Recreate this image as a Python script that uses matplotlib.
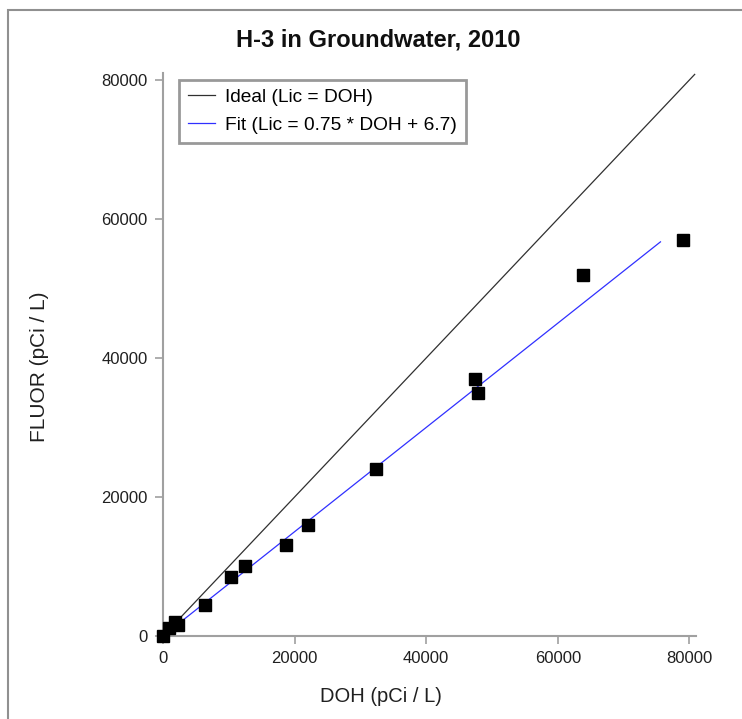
import matplotlib.pyplot as plt
from matplotlib.patches import Rectangle

plt.rcParams['font.family'] = ['Liberation Sans', 'DejaVu Sans']

# measured points (pCi / L)
doh = [0, 900, 1800, 2300, 6400, 10300, 12500, 18700, 22000, 32400, 47400, 47800, 63900, 79100]
fluor = [0, 1200, 2000, 1600, 4400, 8500, 10000, 13100, 16000, 24000, 37000, 35000, 52000, 57000]

ideal_x = [0, 80800]
fit_x = [0, 75600]
fit_slope = 0.75
fit_icpt = 6.7

ticks = [0, 20000, 40000, 60000, 80000]

W, H = 742, 719
fig = plt.figure(figsize=(W / 100, H / 100), dpi=100)
ax = fig.add_axes([163 / W, 83 / H, 533 / W, 563 / H])

ax.plot(ideal_x, ideal_x, color='#303030', lw=0.9, label='Ideal (Lic = DOH)')
ax.plot(fit_x, [fit_slope * v + fit_icpt for v in fit_x], color='#3030ff', lw=0.9,
        label='Fit (Lic = 0.75 * DOH + 6.7)')
ax.plot(doh, fluor, 's', color='black', ms=8.5, clip_on=False, zorder=5)

ax.set_xlim(0, 81000)
ax.set_ylim(0, 81000)
ax.set_xticks(ticks)
ax.set_yticks(ticks)
ax.set_xticklabels([str(t) for t in ticks])
ax.set_yticklabels([str(t) for t in ticks])

for s in ['top', 'right']:
    ax.spines[s].set_visible(False)
for s in ['left', 'bottom']:
    ax.spines[s].set_color('#a0a0a0')
    ax.spines[s].set_linewidth(1.5)
ax.tick_params(colors='#a0a0a0', labelcolor='#202020', labelsize=12, length=6, width=1.2, pad=5)

# axis titles and chart title placed in pixels like the original
fig.text(381 / W, 1 - 697 / H, 'DOH (pCi / L)', ha='center', va='center', fontsize=14.5, color='#202020')
fig.text(40 / W, 1 - 367 / H, 'FLUOR (pCi / L)', ha='center', va='center', rotation=90,
         fontsize=15, color='#202020')
fig.text(378 / W, 1 - 40 / H, 'H-3 in Groundwater, 2010', ha='center', va='center',
         fontsize=17, fontweight='bold', color='#101010')

# legend box: upper-left corner at (179, 80) px
lx, ly = fig.transFigure.inverted().transform((179, H - 80))
leg = ax.legend(loc='upper left', bbox_to_anchor=(lx, ly), bbox_transform=fig.transFigure,
                borderaxespad=0, frameon=True, fancybox=False, fontsize=13.8,
                handlelength=1.45, borderpad=0.45, labelspacing=0.55, handletextpad=0.5)
leg.get_frame().set_edgecolor('#808080')
leg.get_frame().set_linewidth(2)

# outer frame of the picture (left and top edges only visible)
fig.patches.append(Rectangle((8 / W, -0.1), 1.2, 1 - 10 / H + 0.1, transform=fig.transFigure,
                             fill=False, edgecolor='#909090', lw=1.5))

fig.savefig('out.png', dpi=100)
